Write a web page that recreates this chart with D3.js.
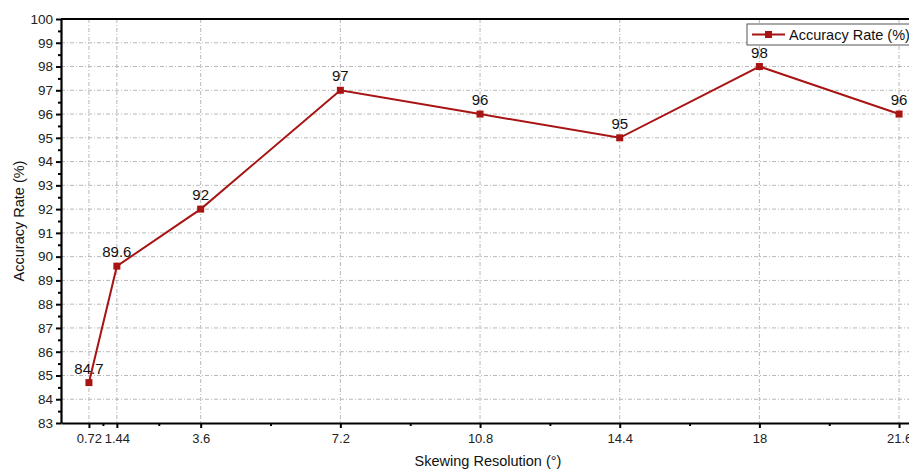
<!DOCTYPE html>
<html>
<head>
<meta charset="utf-8">
<script src="https://cdn.jsdelivr.net/npm/d3@7"></script>
<style>
  body { margin: 0; background: #fff; }
  svg { font-family: "Liberation Sans", Arial, sans-serif; }
</style>
</head>
<body>
<svg id="chart"></svg>
<script>
// data
var resolution = [0.72, 1.44, 3.6, 7.2, 10.8, 14.4, 18, 21.6];
var accuracy = [84.7, 89.6, 92, 97, 96, 95, 98, 96];
var accLabels = ["84.7", "89.6", "92", "97", "96", "95", "98", "96"];
var xMajor = [0.72, 1.44, 3.6, 7.2, 10.8, 14.4, 18, 21.6];
var xMinor = [1.08, 2.52, 5.4, 9, 12.6, 16.2, 19.8];
var yMajor = d3.range(83, 101, 1);
var yMinor = d3.range(83.5, 100, 1);

function init(){
    var W = 909, H = 470;
    var margin = {top: 19, left: 61, bottom: 47};
    var svg = d3.select("#chart").attr("width", W).attr("height", H);

    // scales
    var x = d3.scaleLinear().domain([0, 22]).range([margin.left, margin.left + 22 * 38.8]);
    var y = d3.scaleLinear().domain([83, 100]).range([H - margin.bottom, margin.top]);
    var color = "#a81414";

    // grid
    var grid = svg.append("g");
    grid.selectAll(".hg").data(yMajor.filter(function(d){ return d > 83 && d < 100; }))
        .enter().append("line")
        .attr("x1", x(0)).attr("x2", W)
        .attr("y1", function(d){ return y(d); }).attr("y2", function(d){ return y(d); })
        .attr("stroke", "#b8b8b8").attr("stroke-width", 1)
        .attr("stroke-dasharray", "4,2,1,2");
    grid.selectAll(".vg").data(xMajor)
        .enter().append("line")
        .attr("x1", function(d){ return x(d); }).attr("x2", function(d){ return x(d); })
        .attr("y1", y(100)).attr("y2", y(83))
        .attr("stroke", "#b8b8b8").attr("stroke-width", 1)
        .attr("stroke-dasharray", "4,2,1,2");

    // x axis
    var xAxis = svg.append("g").attr("transform", "translate(0," + y(83) + ")")
        .call(d3.axisBottom(x).tickValues(xMajor).tickSize(5).tickSizeOuter(0)
            .tickFormat(function(d){ return String(d); }));
    svg.append("g").attr("transform", "translate(0," + y(83) + ")")
        .call(d3.axisBottom(x).tickValues(xMinor).tickSize(3).tickFormat(""))
        .call(function(g){ g.select(".domain").remove(); g.selectAll("line").attr("stroke-width", 2); });
    xAxis.select(".domain").attr("stroke-width", 2.2);
    xAxis.selectAll(".tick line").attr("stroke-width", 2);
    xAxis.selectAll("text").attr("font-size", 13).attr("fill", "#222")
        .attr("font-family", "Liberation Sans, Arial, sans-serif").attr("dy", "0.9em");

    // y axis
    var yAxis = svg.append("g").attr("transform", "translate(" + x(0) + ",0)")
        .call(d3.axisLeft(y).tickValues(yMajor).tickSize(5).tickSizeOuter(0));
    svg.append("g").attr("transform", "translate(" + x(0) + ",0)")
        .call(d3.axisLeft(y).tickValues(yMinor).tickSize(3).tickFormat(""))
        .call(function(g){ g.select(".domain").remove(); g.selectAll("line").attr("stroke-width", 2); });
    yAxis.select(".domain").attr("stroke-width", 2.2);
    yAxis.selectAll(".tick line").attr("stroke-width", 2);
    yAxis.selectAll("text").attr("font-size", 13.5).attr("fill", "#222")
        .attr("font-family", "Liberation Sans, Arial, sans-serif").attr("x", -8);

    // top frame
    svg.append("line").attr("x1", x(0)).attr("x2", W)
        .attr("y1", y(100)).attr("y2", y(100))
        .attr("stroke", "#000").attr("stroke-width", 2.2);

    // line + markers
    var pts = resolution.map(function(d, i){ return {x: d, y: accuracy[i], label: accLabels[i]}; });
    svg.append("path").datum(pts)
        .attr("fill", "none").attr("stroke", color).attr("stroke-width", 2)
        .attr("d", d3.line().x(function(d){ return x(d.x); }).y(function(d){ return y(d.y); }));
    svg.selectAll(".pt").data(pts).enter().append("rect")
        .attr("x", function(d){ return x(d.x) - 3.5; })
        .attr("y", function(d){ return y(d.y) - 3.5; })
        .attr("width", 7).attr("height", 7).attr("fill", color);
    svg.selectAll(".lbl").data(pts).enter().append("text")
        .attr("x", function(d){ return x(d.x); })
        .attr("y", function(d){ return y(d.y) - 9; })
        .attr("text-anchor", "middle").attr("font-size", 15).attr("fill", "#111")
        .text(function(d){ return d.label; });

    // legend
    var lg = svg.append("g").attr("transform", "translate(747,24)");
    lg.append("rect").attr("x", 0).attr("y", 0).attr("width", 170).attr("height", 21)
        .attr("fill", "#fff").attr("stroke", "#555").attr("stroke-width", 1);
    lg.append("line").attr("x1", 5).attr("x2", 38).attr("y1", 10.5).attr("y2", 10.5)
        .attr("stroke", color).attr("stroke-width", 2);
    lg.append("rect").attr("x", 18).attr("y", 7).attr("width", 7).attr("height", 7).attr("fill", color);
    lg.append("text").attr("x", 42).attr("y", 16).attr("font-size", 14.5).attr("fill", "#111")
        .text("Accuracy Rate (%)");

    // axis titles
    svg.append("text").attr("x", 488).attr("y", 466).attr("text-anchor", "middle")
        .attr("font-size", 14.5).attr("fill", "#111").text("Skewing Resolution (°)");
    svg.append("text").attr("transform", "translate(24," + ((y(83) + y(100)) / 2) + ") rotate(-90)")
        .attr("text-anchor", "middle").attr("font-size", 14.5).attr("fill", "#111")
        .text("Accuracy Rate (%)");
}
window.onload = init;
</script>
</body>
</html>
